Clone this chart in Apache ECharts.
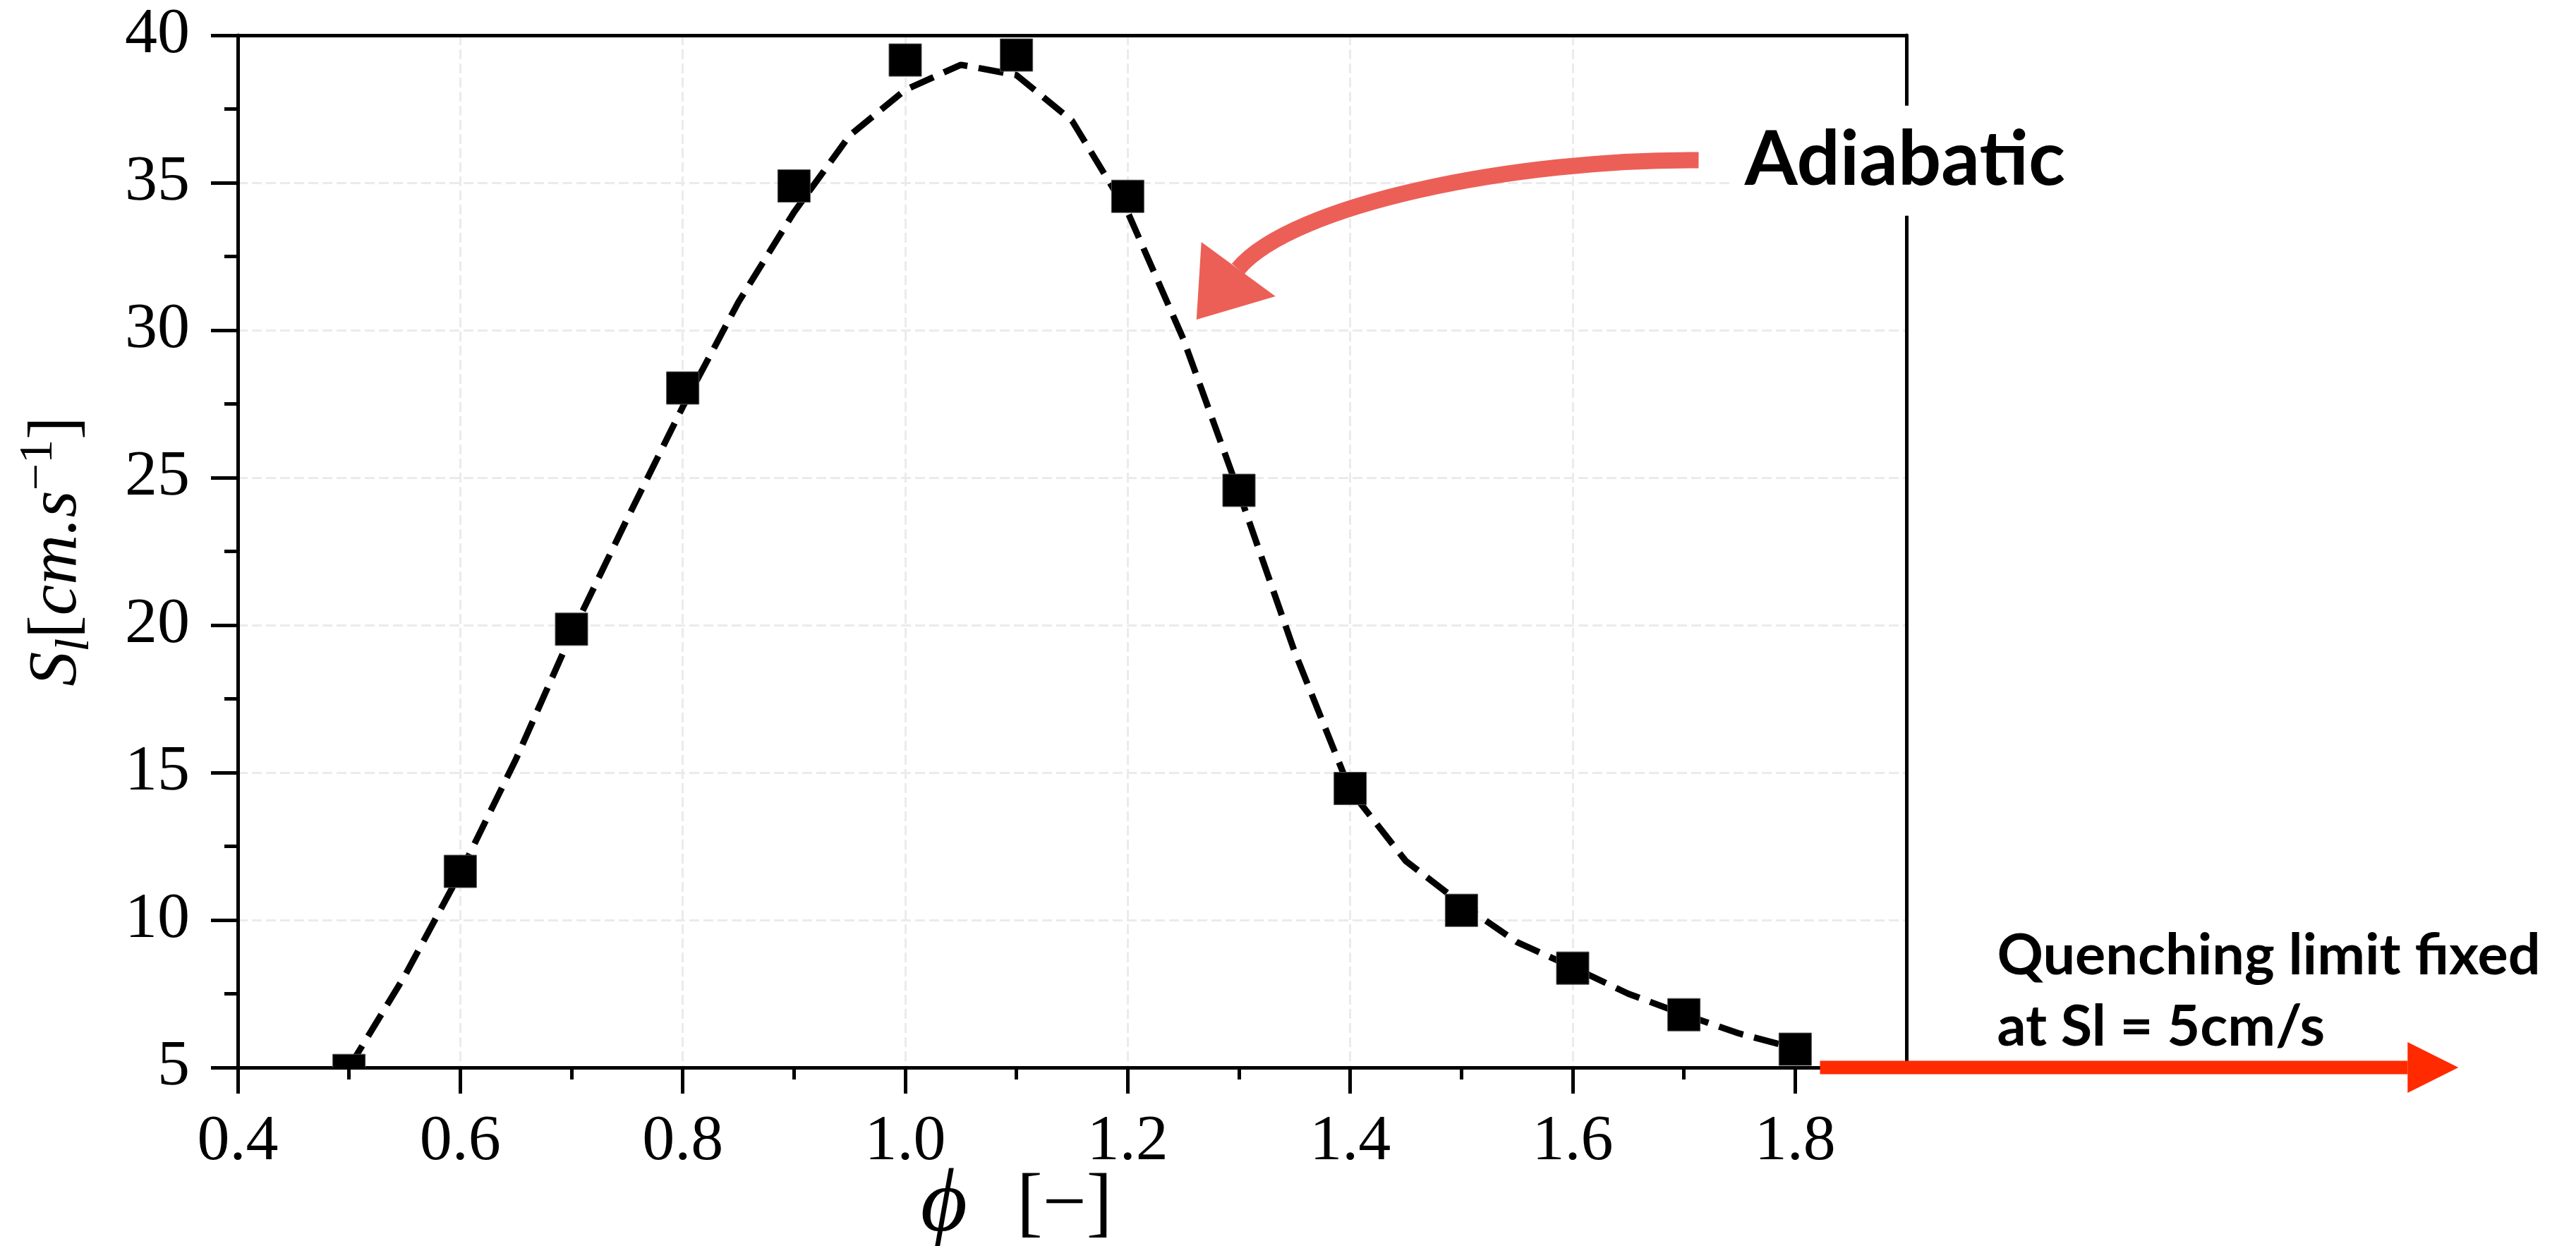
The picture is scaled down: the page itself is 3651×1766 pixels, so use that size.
<!DOCTYPE html>
<html><head><meta charset="utf-8">
<script src="https://cdn.jsdelivr.net/npm/echarts@6/dist/echarts.min.js"></script>
<style>html,body{margin:0;padding:0;background:#fff}#c{width:3651px;height:1766px}</style>
</head><body><div id="c"></div>
<script>
// measured points
const phi = [0.5, 0.6, 0.7, 0.8, 0.9, 1.0, 1.1, 1.2, 1.3, 1.4, 1.5, 1.6, 1.7, 1.8];
const sl  = [4.9, 11.65, 19.86, 28.04, 34.89, 39.16, 39.33, 34.54, 24.57, 14.46, 10.33, 8.37, 6.79, 5.62];
// dashed fit curve
const phiFit = [0.5,0.55,0.6,0.65,0.7,0.75,0.8,0.85,0.9,0.95,1.0,1.05,1.1,1.15,1.2,1.25,1.3,1.35,1.4,1.45,1.5,1.55,1.6,1.65,1.7,1.75,1.8];
const slFit  = [5.0,8.1,11.6,15.45,19.7,23.6,27.4,30.95,34.0,36.6,38.15,39.0,38.65,37.1,34.0,29.7,24.5,19.1,14.4,12.0,10.55,9.25,8.4,7.5,6.8,6.15,5.65];
// axis ticks
const xMajorTicks = [0.4, 0.6, 0.8, 1.0, 1.2, 1.4, 1.6, 1.8];
const xMinorTicks = [0.5, 0.7, 0.9, 1.1, 1.3, 1.5, 1.7];
const xRange = [0.4, 1.9];
const yRange = [5, 40];
const yInterval = 5;
// annotations (data coordinates)
const adiabaticShaft = [[1.7132, 35.766], [1.5497, 35.813], [1.3480, 34.282], [1.2992, 32.081]];
const adiabaticHead = [[1.2662, 32.990], [1.3328, 31.148], [1.2618, 30.359]];
const adiabaticLabel = {text: 'Adiabatic', pos: [1.7444, 35.75]};
const quenchShaft = [[1.8223, 5.0], [2.3505, 5.0]];
const quenchHead = [[2.3505, 5.861], [2.3505, 4.139], [2.3962, 5.0]];
const quenchLabel = {text: 'Quenching limit fixed\nat Sl = 5cm/s', pos: [1.9815, 7.58]};

const serif = '"Liberation Serif", "Times New Roman", "DejaVu Serif", serif';
const grid = {left: 337, top: 50, right: 949, bottom: 253, containLabel: false, outerBoundsMode: 'none'};
const splitStyle = {color: '#ebebeb', width: 3, type: [14, 6]};

const option = {
  animation: false,
  backgroundColor: '#ffffff',
  grid: grid,
  xAxis: [
    {
      type: 'value', min: xRange[0], max: xRange[1], position: 'bottom',
      axisLine: {show: true, onZero: false, lineStyle: {color: '#000', width: 5}},
      axisTick: {show: true, customValues: xMajorTicks, length: 37, lineStyle: {color: '#000', width: 5}},
      axisLabel: {show: true, customValues: xMajorTicks, margin: 60, fontFamily: serif, fontSize: 92, color: '#000',
        formatter: v => v.toFixed(1)},
      splitLine: {show: true, showMinLine: false, showMaxLine: false, lineStyle: splitStyle},
      name: '{p|\u03D5}{b|[\u2212]}',
      nameLocation: 'middle', nameGap: 133, nameMoveOverlap: false,
      nameTextStyle: {padding: [0, 158, 0, 0], rich: {
        p: {fontFamily: serif, fontStyle: 'italic', fontSize: 128, color: '#000', padding: [0, 70, 0, 0]},
        b: {fontFamily: serif, fontSize: 110, color: '#000'}
      }}
    },
    {
      type: 'value', min: xRange[0], max: xRange[1], position: 'bottom',
      axisLine: {show: false, onZero: false},
      axisTick: {show: true, customValues: xMinorTicks, length: 17, lineStyle: {color: '#000', width: 5}},
      axisLabel: {show: false}, splitLine: {show: false}
    },
    {
      type: 'value', min: xRange[0], max: xRange[1], position: 'top',
      axisLine: {show: true, onZero: false, lineStyle: {color: '#000', width: 5}},
      axisTick: {show: false}, axisLabel: {show: false}, splitLine: {show: false}
    }
  ],
  yAxis: [
    {
      type: 'value', min: yRange[0], max: yRange[1], interval: yInterval, position: 'left',
      axisLine: {show: true, onZero: false, lineStyle: {color: '#000', width: 5}},
      axisTick: {show: true, length: 38, lineStyle: {color: '#000', width: 5}},
      minorTick: {show: true, splitNumber: 2, length: 19, lineStyle: {color: '#000', width: 5}},
      axisLabel: {show: true, margin: 68, fontFamily: serif, fontSize: 92, color: '#000'},
      splitLine: {show: true, showMinLine: false, showMaxLine: false, lineStyle: splitStyle},
      name: '{i|S}{sub|l}{n|[}{i|cm.s}{sup|\u22121}{n|]}',
      nameLocation: 'middle', nameGap: 196, nameRotate: 90, nameMoveOverlap: false,
      nameTextStyle: {rich: {
        i: {fontFamily: serif, fontStyle: 'italic', fontSize: 98, lineHeight: 120, color: '#000'},
        n: {fontFamily: serif, fontSize: 98, lineHeight: 120, color: '#000'},
        sub: {fontFamily: serif, fontStyle: 'italic', fontSize: 68, lineHeight: 70, verticalAlign: 'bottom', color: '#000'},
        sup: {fontFamily: serif, fontSize: 68, lineHeight: 60, verticalAlign: 'top', color: '#000'}
      }}
    },
    {
      type: 'value', min: yRange[0], max: yRange[1], position: 'right',
      axisLine: {show: true, onZero: false, lineStyle: {color: '#000', width: 5}},
      axisTick: {show: false}, axisLabel: {show: false}, splitLine: {show: false}
    }
  ],
  series: [
    {
      type: 'line', name: 'fit', xAxisIndex: 0, yAxisIndex: 0,
      data: phiFit.map((x, i) => [x, slFit[i]]),
      symbol: 'none', smooth: false, z: 3,
      lineStyle: {color: '#000', width: 9, type: [36, 16]}
    },
    {
      type: 'custom', name: 'Sl', xAxisIndex: 0, yAxisIndex: 0, clip: true, z: 4,
      data: phi.map((x, i) => [x, sl[i]]),
      encode: {x: 0, y: 1},
      renderItem: (params, api) => {
        const p = api.coord([api.value(0), api.value(1)]);
        const s = 46;
        return {type: 'rect', shape: {x: p[0] - s / 2, y: p[1] - s / 2, width: s, height: s},
          style: {fill: '#000', stroke: '#555', lineWidth: 1}};
      }
    }
  ]
};

const chart = echarts.init(document.getElementById('c'));
chart.setOption(option);

const px = p => chart.convertToPixel({xAxisIndex: 0, yAxisIndex: 0}, p);
const a = adiabaticShaft.map(px);
const q = quenchShaft.map(px);
const adiColor = '#ec5f57';
const qColor = '#ff2a00';
chart.setOption({
  graphic: [
    {type: 'bezierCurve', z: 50,
      shape: {x1: a[0][0], y1: a[0][1], cpx1: a[1][0], cpy1: a[1][1], cpx2: a[2][0], cpy2: a[2][1], x2: a[3][0], y2: a[3][1]},
      style: {stroke: adiColor, lineWidth: 23, fill: null, lineCap: 'butt'}},
    {type: 'polygon', z: 50, shape: {points: adiabaticHead.map(px)}, style: {fill: adiColor}},
    {type: 'line', z: 50, shape: {x1: q[0][0], y1: q[0][1], x2: q[1][0], y2: q[1][1]},
      style: {stroke: qColor, lineWidth: 19}},
    {type: 'polygon', z: 50, shape: {points: quenchHead.map(px)}, style: {fill: qColor}},
    {type: 'text', z: 60, x: px(adiabaticLabel.pos)[0], y: px(adiabaticLabel.pos)[1],
      style: {text: adiabaticLabel.text, fontFamily: 'Lato', fontWeight: 'bold', fontSize: 108,
        fill: '#000', align: 'left', verticalAlign: 'middle', backgroundColor: '#fff', padding: [24, 16, 24, 16]}},
    {type: 'text', z: 60, x: px(quenchLabel.pos)[0], y: px(quenchLabel.pos)[1],
      style: {text: quenchLabel.text, fontFamily: 'Lato', fontWeight: 'bold', fontSize: 81, lineHeight: 101,
        fill: '#000', align: 'left', verticalAlign: 'middle'}}
  ]
});
</script>
</body></html>
